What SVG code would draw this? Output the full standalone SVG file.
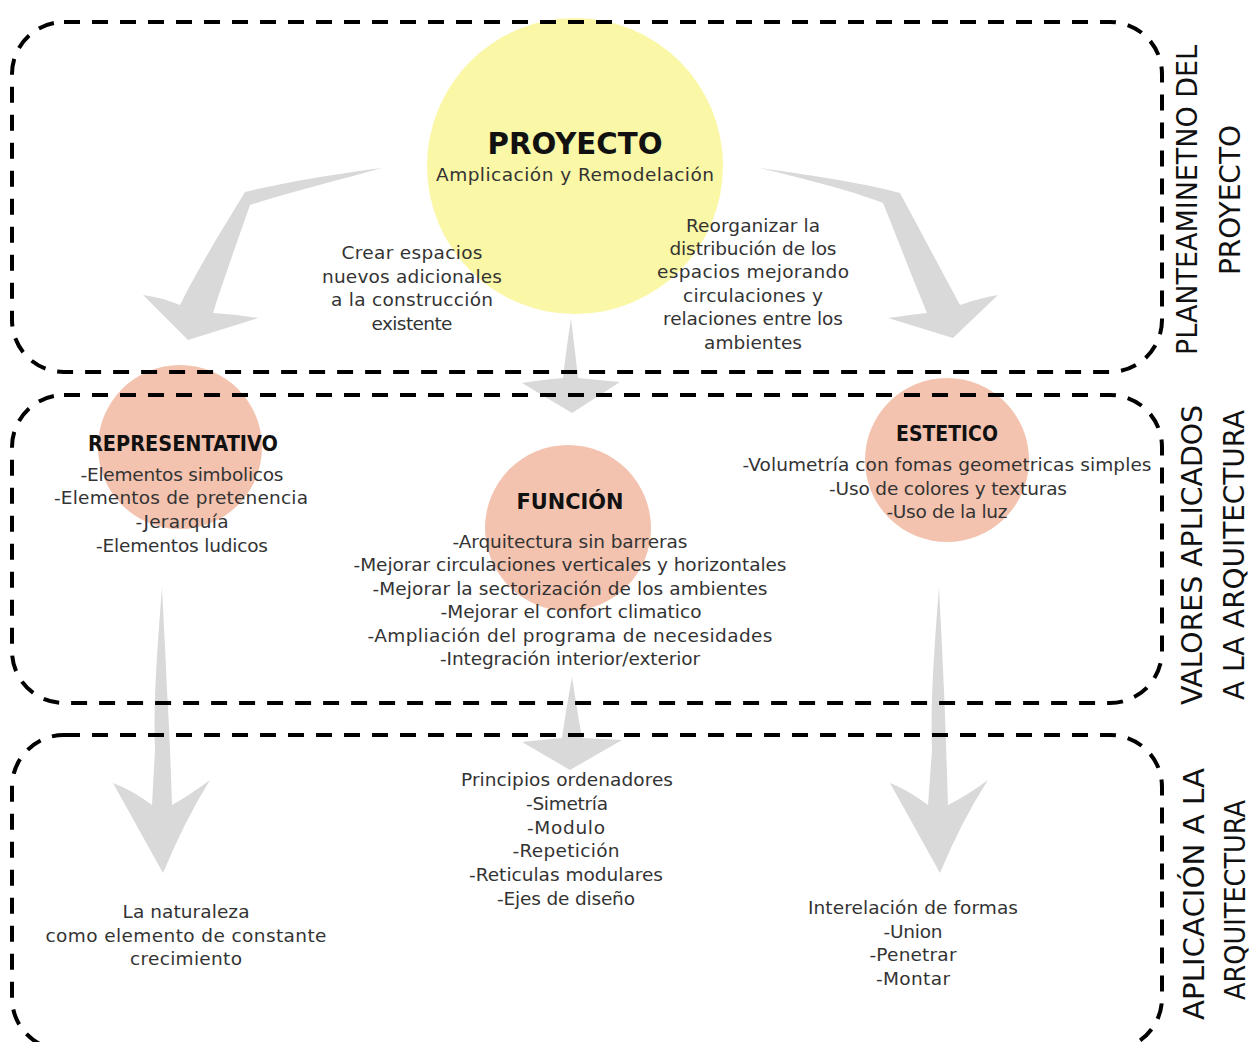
<svg xmlns="http://www.w3.org/2000/svg" width="1252" height="1042" viewBox="0 0 1252 1042">
  <style>
    .bg { fill: #ffffff; }
    .sun { fill: #faf7a6; }
    .peach { fill: #f3c3b0; }
    .arrow { fill: #d9d9d9; }
    .frame { fill: none; stroke: #000000; stroke-width: 4; stroke-dasharray: 16 12; }
    .body { font-family: "DejaVu Sans", "Liberation Sans", sans-serif; font-size: 18.5px; fill: #333333; text-anchor: middle; }
    .title { font-family: "DejaVu Sans", "Liberation Sans", sans-serif; font-weight: bold; fill: #111111; text-anchor: middle; }
    .side { font-family: "Liberation Sans Narrow", "DejaVu Sans Condensed", "Liberation Sans", sans-serif; font-size: 29px; fill: #111111; text-anchor: middle; }
  </style>
  <rect class="bg" x="0" y="0" width="1252" height="1042"/>

  <!-- coloured discs behind the headings -->
  <g id="discs">
    <circle class="sun" cx="575" cy="166" r="148"/>
    <circle class="peach" cx="180" cy="447" r="82"/>
    <circle class="peach" cx="568" cy="528" r="83"/>
    <circle class="peach" cx="947" cy="460" r="82"/>
  </g>

  <!-- grey brush arrows -->
  <g id="connectors">
    <path class="arrow" d="M382,168 C350,172 290,181 245,192 C225,225 200,265 180,305 Q160,297 143,295 L188,340 L258,318 Q235,314 213,313 C225,275 238,240 250,205 C290,192 340,180 382,168 Z"/>
    <path class="arrow" d="M760,168 C800,174 860,182 900,193 C920,230 940,268 960,305 Q980,298 998,295 L953,338 L888,318 Q908,315 927,313 C912,277 898,240 883,203 C850,190 800,178 760,168 Z"/>
    <path class="arrow" d="M571,319 Q566,350 563,378 Q540,380 522,383 L572,413 L620,382 Q598,380 578,378 Q575,350 571,319 Z"/>
    <path class="arrow" d="M162,587 C158,640 153,700 155,750 L152,805 Q132,790 113,783 L163,873 Q185,820 210,780 Q190,795 172,805 Q170,740 167,690 C165,640 163,610 162,587 Z"/>
    <path class="arrow" d="M939,587 C935,640 930,700 932,750 L928,805 Q908,790 890,783 L940,873 Q962,820 988,780 Q968,795 948,805 Q946,740 944,690 C942,640 940,610 939,587 Z"/>
    <path class="arrow" d="M572,677 Q566,710 562,738 Q540,740 522,742 L570,770 L622,740 Q600,739 582,738 Q577,710 572,677 Z"/>
  </g>

  <!-- dashed section frames -->
  <g id="sections">
    <rect id="section-planteamiento" class="frame" x="12" y="22" width="1150" height="350" rx="52" ry="52"/>
    <rect id="section-valores" class="frame" x="12" y="395" width="1150" height="308" rx="52" ry="52"/>
    <rect id="section-aplicacion" class="frame" x="12" y="735" width="1150" height="315" rx="52" ry="52"/>
  </g>

  <g id="proyecto">
    <text class="title" x="575" y="154" font-size="31" textLength="175" lengthAdjust="spacingAndGlyphs">PROYECTO</text>
    <text class="body" x="575" y="181" textLength="278">Amplicación y Remodelación</text>
  </g>

  <g id="crear-espacios">
    <text class="body" x="412" y="259" textLength="141">Crear espacios</text>
    <text class="body" x="412" y="283" textLength="180">nuevos adicionales</text>
    <text class="body" x="412" y="306" textLength="162">a la construcción</text>
    <text class="body" x="412" y="330" textLength="81">existente</text>
  </g>

  <g id="reorganizar">
    <text class="body" x="753" y="232" textLength="134">Reorganizar la</text>
    <text class="body" x="753" y="255" textLength="167">distribución de los</text>
    <text class="body" x="753" y="278" textLength="192">espacios mejorando</text>
    <text class="body" x="753" y="302" textLength="140">circulaciones y</text>
    <text class="body" x="753" y="325" textLength="180">relaciones entre los</text>
    <text class="body" x="753" y="349" textLength="98">ambientes</text>
  </g>

  <g id="representativo">
    <text class="title" x="183" y="451" font-size="22" textLength="190" lengthAdjust="spacingAndGlyphs">REPRESENTATIVO</text>
    <text class="body" x="182" y="481" textLength="203">-Elementos simbolicos</text>
    <text class="body" x="181" y="504" textLength="254">-Elementos de pretenencia</text>
    <text class="body" x="182" y="528" textLength="93">-Jerarquía</text>
    <text class="body" x="182" y="552" textLength="172">-Elementos ludicos</text>
  </g>

  <g id="funcion">
    <text class="title" x="570" y="509" font-size="22" textLength="107" lengthAdjust="spacingAndGlyphs">FUNCIÓN</text>
    <text class="body" x="570" y="548" textLength="235">-Arquitectura sin barreras</text>
    <text class="body" x="570" y="571" textLength="433">-Mejorar circulaciones verticales y horizontales</text>
    <text class="body" x="570" y="595" textLength="395">-Mejorar la sectorización de los ambientes</text>
    <text class="body" x="571" y="618" textLength="261">-Mejorar el confort climatico</text>
    <text class="body" x="570" y="642" textLength="405">-Ampliación del programa de necesidades</text>
    <text class="body" x="570" y="665" textLength="260">-Integración interior/exterior</text>
  </g>

  <g id="estetico">
    <text class="title" x="947" y="441" font-size="22" textLength="102" lengthAdjust="spacingAndGlyphs">ESTETICO</text>
    <text class="body" x="947" y="471" textLength="409">-Volumetría con fomas geometricas simples</text>
    <text class="body" x="948" y="495" textLength="238">-Uso de colores y texturas</text>
    <text class="body" x="947" y="518" textLength="121">-Uso de la luz</text>
  </g>

  <g id="principios">
    <text class="body" x="567" y="786" textLength="212">Principios ordenadores</text>
    <text class="body" x="567" y="810" textLength="82">-Simetría</text>
    <text class="body" x="566" y="834" textLength="78">-Modulo</text>
    <text class="body" x="566" y="857" textLength="107">-Repetición</text>
    <text class="body" x="566" y="881" textLength="194">-Reticulas modulares</text>
    <text class="body" x="566" y="905" textLength="138">-Ejes de diseño</text>
  </g>

  <g id="naturaleza">
    <text class="body" x="186" y="918" textLength="127">La naturaleza</text>
    <text class="body" x="186" y="942" textLength="281">como elemento de constante</text>
    <text class="body" x="186" y="965" textLength="112">crecimiento</text>
  </g>

  <g id="interrelacion">
    <text class="body" x="913" y="914" textLength="210">Interelación de formas</text>
    <text class="body" x="913" y="938" textLength="59">-Union</text>
    <text class="body" x="913" y="961" textLength="87">-Penetrar</text>
    <text class="body" x="913" y="985" textLength="74">-Montar</text>
  </g>

  <!-- section captions along the right edge -->
  <g id="captions">
    <text class="side" transform="translate(1197,200) rotate(-90)" textLength="310" lengthAdjust="spacingAndGlyphs">PLANTEAMINETNO DEL</text>
    <text class="side" transform="translate(1240,200) rotate(-90)" textLength="150" lengthAdjust="spacingAndGlyphs">PROYECTO</text>
    <text class="side" transform="translate(1202,555) rotate(-90)" textLength="300" lengthAdjust="spacingAndGlyphs">VALORES APLICADOS</text>
    <text class="side" transform="translate(1244,555) rotate(-90)" textLength="290" lengthAdjust="spacingAndGlyphs">A LA ARQUITECTURA</text>
    <text class="side" transform="translate(1204,894) rotate(-90)" textLength="252" lengthAdjust="spacingAndGlyphs">APLICACIÓN A LA</text>
    <text class="side" transform="translate(1245,900) rotate(-90)" textLength="200" lengthAdjust="spacingAndGlyphs">ARQUITECTURA</text>
  </g>
</svg>
